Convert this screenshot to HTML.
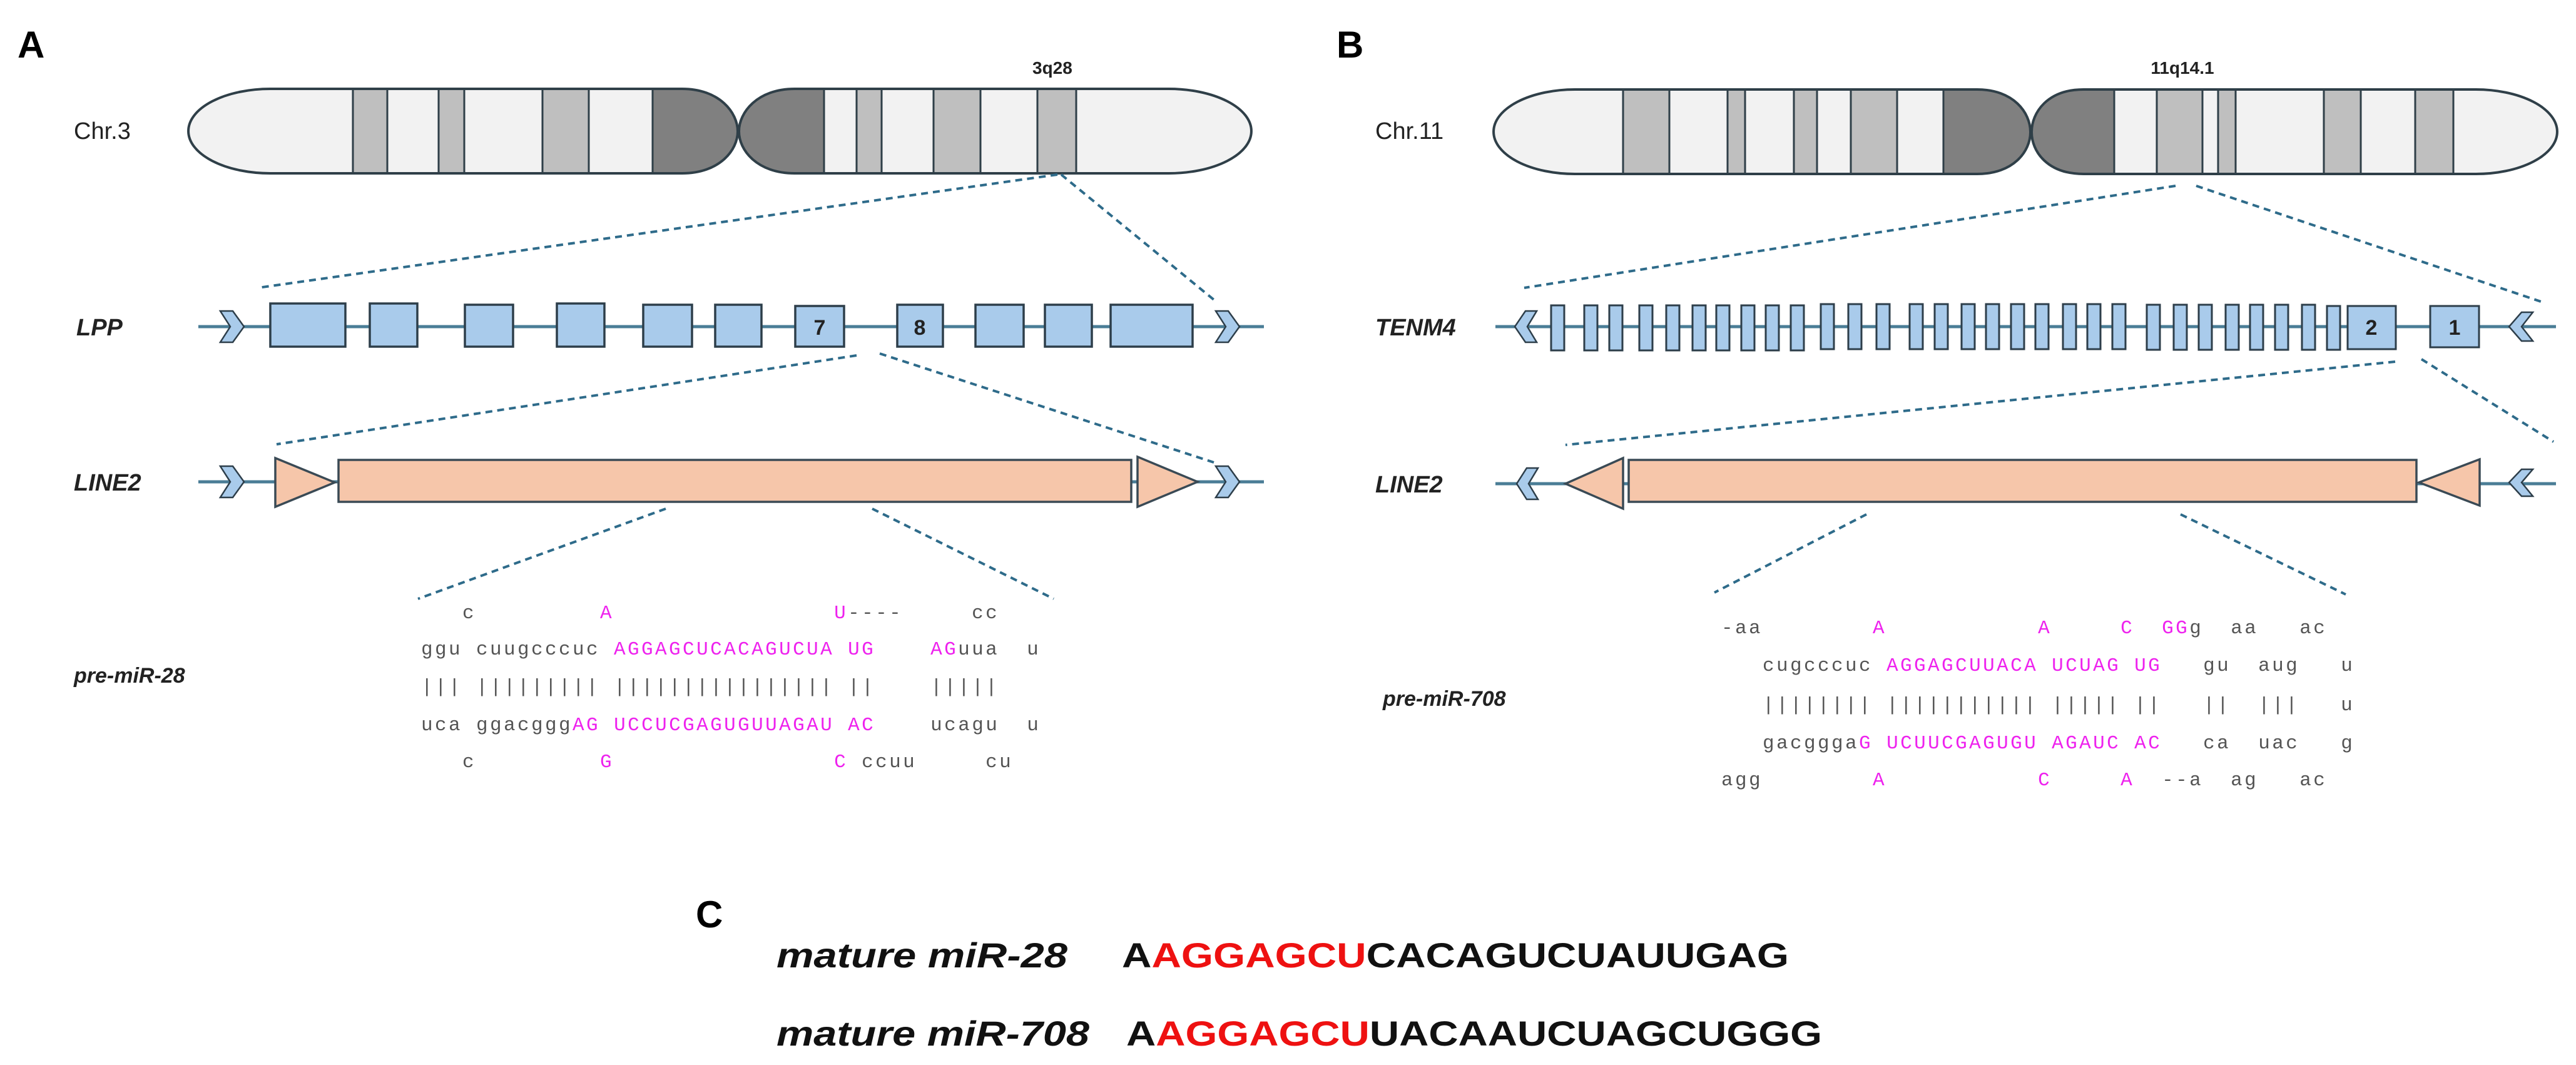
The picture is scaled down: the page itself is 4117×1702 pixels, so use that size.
<!DOCTYPE html>
<html><head><meta charset="utf-8"><style>
html,body{margin:0;padding:0;background:#fff;}
svg{display:block;}
.lab{font-family:"Liberation Sans",sans-serif;}
.seq{font-family:"Liberation Mono",monospace;font-size:31px;letter-spacing:3.4px;fill:#555;white-space:pre;}
.m{fill:#ee22ee;}
</style></head><body>
<svg width="4117" height="1702" viewBox="0 0 4117 1702" xmlns="http://www.w3.org/2000/svg">
<defs>
<clipPath id="la"><path d="M432,142 H1090 C1150,142 1179,180 1179,210 C1179,240 1150,277 1090,277 H432 A131,67.5 0 0 1 432,142 Z"/></clipPath>
<clipPath id="ra"><path d="M1270,142 H1868 A132,67.5 0 0 1 1868,277 H1270 C1210,277 1181,240 1181,210 C1181,180 1210,142 1270,142 Z"/></clipPath>
<clipPath id="lb"><path d="M2517,143 H3160 C3218,143 3245,180 3245,211 C3245,242 3218,278 3160,278 H2517 A130,67.5 0 0 1 2517,143 Z"/></clipPath>
<clipPath id="rb"><path d="M3330,143 H3957 A130,67.5 0 0 1 3957,278 H3330 C3272,278 3247,242 3247,211 C3247,180 3272,143 3330,143 Z"/></clipPath>
</defs>

<text x="28" y="92" class="lab" font-size="60" font-weight="bold">A</text>
<text x="2136" y="92" class="lab" font-size="60" font-weight="bold">B</text>
<text x="1112" y="1482" class="lab" font-size="60" font-weight="bold">C</text>

<!-- Panel A chromosome -->
<text x="118" y="222" class="lab" font-size="38" fill="#222">Chr.3</text>
<text x="1650" y="118" class="lab" font-size="28" font-weight="bold" fill="#222">3q28</text>
<g clip-path="url(#la)">
<rect x="290" y="130" width="900" height="160" fill="#f2f2f2"/>
<rect x="564" y="130" width="55" height="160" fill="#bfbfbf" stroke="#2f3f48" stroke-width="3"/>
<rect x="701" y="130" width="41" height="160" fill="#bfbfbf" stroke="#2f3f48" stroke-width="3"/>
<rect x="867" y="130" width="74" height="160" fill="#bfbfbf" stroke="#2f3f48" stroke-width="3"/>
<rect x="1043" y="130" width="150" height="160" fill="#808080" stroke="#2f3f48" stroke-width="3"/>
</g>
<path d="M432,142 H1090 C1150,142 1179,180 1179,210 C1179,240 1150,277 1090,277 H432 A131,67.5 0 0 1 432,142 Z" fill="none" stroke="#2f3f48" stroke-width="4"/>
<g clip-path="url(#ra)">
<rect x="1170" y="130" width="850" height="160" fill="#f2f2f2"/>
<rect x="1170" y="130" width="147" height="160" fill="#808080" stroke="#2f3f48" stroke-width="3"/>
<rect x="1369" y="130" width="40" height="160" fill="#bfbfbf" stroke="#2f3f48" stroke-width="3"/>
<rect x="1492" y="130" width="75" height="160" fill="#bfbfbf" stroke="#2f3f48" stroke-width="3"/>
<rect x="1658" y="130" width="62" height="160" fill="#bfbfbf" stroke="#2f3f48" stroke-width="3"/>
</g>
<path d="M1270,142 H1868 A132,67.5 0 0 1 1868,277 H1270 C1210,277 1181,240 1181,210 C1181,180 1210,142 1270,142 Z" fill="none" stroke="#2f3f48" stroke-width="4"/>

<g stroke="#2e6b8a" stroke-width="4" stroke-dasharray="11,8" fill="none">
<line x1="1690" y1="279" x2="412" y2="460"/>
<line x1="1696" y1="279" x2="1940" y2="479"/>
<line x1="1369" y1="568" x2="442" y2="710"/>
<line x1="1406" y1="565" x2="1940" y2="739"/>
<line x1="1064" y1="813" x2="668" y2="957"/>
<line x1="1394" y1="813" x2="1684" y2="957"/>
</g>

<text x="122" y="536" class="lab" font-size="38" font-weight="bold" font-style="italic" fill="#222">LPP</text>
<line x1="317" y1="522" x2="2020" y2="522" stroke="#4a7d96" stroke-width="5"/>
<g fill="#a9cbeb" stroke="#2d3e4a" stroke-width="3.5">
<rect x="432" y="485" width="120" height="69"/>
<rect x="591" y="485" width="76" height="69"/>
<rect x="743" y="487" width="77" height="67"/>
<rect x="890" y="485" width="76" height="69"/>
<rect x="1028" y="487" width="78" height="67"/>
<rect x="1143" y="487" width="74" height="67"/>
<rect x="1271" y="489" width="78" height="65"/>
<rect x="1434" y="487" width="73" height="67"/>
<rect x="1559" y="487" width="77" height="67"/>
<rect x="1670" y="487" width="75" height="67"/>
<rect x="1775" y="487" width="131" height="67"/>
</g>
<text x="1310" y="535" class="lab" font-size="34" font-weight="bold" text-anchor="middle" fill="#222">7</text>
<text x="1470" y="535" class="lab" font-size="34" font-weight="bold" text-anchor="middle" fill="#222">8</text>
<g fill="#a9cbeb" stroke="#2d3e4a" stroke-width="2.5">
<polygon points="352,497 372,497 390,522 372,547 352,547 368,522"/>
<polygon points="1943,497 1963,497 1981,522 1963,547 1943,547 1959,522"/>
</g>

<text x="118" y="784" class="lab" font-size="38" font-weight="bold" font-style="italic" fill="#222">LINE2</text>
<line x1="317" y1="770" x2="2020" y2="770" stroke="#4a7d96" stroke-width="5"/>
<g fill="#f6c6aa" stroke="#3a4a55" stroke-width="3.5">
<polygon points="440,732 535,771 440,810"/>
<rect x="541" y="735" width="1267" height="67"/>
<polygon points="1818,730 1914,770 1818,810"/>
</g>
<g fill="#a9cbeb" stroke="#2d3e4a" stroke-width="2.5">
<polygon points="352,745 372,745 390,770 372,795 352,795 368,770"/>
<polygon points="1943,745 1963,745 1981,770 1963,795 1943,795 1959,770"/>
</g>

<text x="118" y="1091" class="lab" font-size="34" font-weight="bold" font-style="italic" fill="#222">pre-miR-28</text>
<text x="673" y="988" class="seq">   c         <tspan class="m">A</tspan>                <tspan class="m">U</tspan>----     cc</text>
<text x="673" y="1046" class="seq">ggu cuugcccuc <tspan class="m">AGGAGCUCACAGUCUA</tspan> <tspan class="m">UG</tspan>    <tspan class="m">AG</tspan>uua  u</text>
<text x="673" y="1106" class="seq">||| ||||||||| |||||||||||||||| ||    |||||</text>
<text x="673" y="1167" class="seq">uca ggacggg<tspan class="m">AG</tspan> <tspan class="m">UCCUCGAGUGUUAGAU</tspan> <tspan class="m">AC</tspan>    ucagu  u</text>
<text x="673" y="1226" class="seq">   c         <tspan class="m">G</tspan>                <tspan class="m">C</tspan> ccuu     cu</text>

<!-- Panel B chromosome -->
<text x="2198" y="222" class="lab" font-size="38" fill="#222">Chr.11</text>
<text x="3488" y="118" class="lab" font-size="28" font-weight="bold" text-anchor="middle" fill="#222">11q14.1</text>
<g clip-path="url(#lb)">
<rect x="2380" y="130" width="880" height="160" fill="#f2f2f2"/>
<rect x="2594" y="130" width="74" height="160" fill="#bfbfbf" stroke="#2f3f48" stroke-width="3"/>
<rect x="2761" y="130" width="28" height="160" fill="#bfbfbf" stroke="#2f3f48" stroke-width="3"/>
<rect x="2867" y="130" width="37" height="160" fill="#bfbfbf" stroke="#2f3f48" stroke-width="3"/>
<rect x="2958" y="130" width="74" height="160" fill="#bfbfbf" stroke="#2f3f48" stroke-width="3"/>
<rect x="3106" y="130" width="150" height="160" fill="#808080" stroke="#2f3f48" stroke-width="3"/>
</g>
<path d="M2517,143 H3160 C3218,143 3245,180 3245,211 C3245,242 3218,278 3160,278 H2517 A130,67.5 0 0 1 2517,143 Z" fill="none" stroke="#2f3f48" stroke-width="4"/>
<g clip-path="url(#rb)">
<rect x="3240" y="130" width="860" height="160" fill="#f2f2f2"/>
<rect x="3230" y="130" width="149" height="160" fill="#808080" stroke="#2f3f48" stroke-width="3"/>
<rect x="3447" y="130" width="73" height="160" fill="#bfbfbf" stroke="#2f3f48" stroke-width="3"/>
<rect x="3545" y="130" width="28" height="160" fill="#bfbfbf" stroke="#2f3f48" stroke-width="3"/>
<rect x="3714" y="130" width="59" height="160" fill="#bfbfbf" stroke="#2f3f48" stroke-width="3"/>
<rect x="3860" y="130" width="61" height="160" fill="#bfbfbf" stroke="#2f3f48" stroke-width="3"/>
</g>
<path d="M3330,143 H3957 A130,67.5 0 0 1 3957,278 H3330 C3272,278 3247,242 3247,211 C3247,180 3272,143 3330,143 Z" fill="none" stroke="#2f3f48" stroke-width="4"/>

<g stroke="#2e6b8a" stroke-width="4" stroke-dasharray="11,8" fill="none">
<line x1="3477" y1="297" x2="2436" y2="460"/>
<line x1="3510" y1="297" x2="4064" y2="483"/>
<line x1="3828" y1="578" x2="2502" y2="711"/>
<line x1="3870" y1="574" x2="4081" y2="706"/>
<line x1="2983" y1="822" x2="2740" y2="947"/>
<line x1="3485" y1="822" x2="3749" y2="950"/>
</g>

<text x="2198" y="536" class="lab" font-size="38" font-weight="bold" font-style="italic" fill="#222">TENM4</text>
<line x1="2390" y1="522" x2="4085" y2="522" stroke="#4a7d96" stroke-width="5"/>
<g fill="#a9cbeb" stroke="#2d3e4a" stroke-width="3">
<rect x="2479" y="488" width="21" height="72"/><rect x="2532" y="488" width="21" height="72"/>
<rect x="2572" y="488" width="21" height="72"/><rect x="2620" y="488" width="21" height="72"/>
<rect x="2663" y="488" width="21" height="72"/><rect x="2705" y="488" width="21" height="72"/>
<rect x="2743" y="488" width="21" height="72"/><rect x="2783" y="488" width="21" height="72"/>
<rect x="2822" y="488" width="21" height="72"/><rect x="2862" y="488" width="21" height="72"/>
<rect x="2910" y="486" width="21" height="72"/><rect x="2954" y="486" width="21" height="72"/>
<rect x="2999" y="486" width="21" height="72"/><rect x="3052" y="486" width="21" height="72"/>
<rect x="3092" y="486" width="21" height="72"/><rect x="3135" y="486" width="21" height="72"/>
<rect x="3174" y="486" width="21" height="72"/><rect x="3214" y="486" width="21" height="72"/>
<rect x="3253" y="486" width="21" height="72"/><rect x="3297" y="486" width="21" height="72"/>
<rect x="3336" y="486" width="21" height="72"/><rect x="3376" y="486" width="21" height="72"/>
<rect x="3431" y="487" width="21" height="72"/><rect x="3474" y="487" width="21" height="72"/>
<rect x="3514" y="487" width="21" height="72"/><rect x="3557" y="487" width="21" height="72"/>
<rect x="3596" y="487" width="21" height="72"/><rect x="3636" y="487" width="21" height="72"/>
<rect x="3679" y="487" width="21" height="72"/><rect x="3719" y="489" width="21" height="70"/>
<rect x="3752" y="489" width="77" height="69"/>
<rect x="3884" y="489" width="78" height="66"/>
</g>
<text x="3790" y="535" class="lab" font-size="34" font-weight="bold" text-anchor="middle" fill="#222">2</text>
<text x="3923" y="535" class="lab" font-size="34" font-weight="bold" text-anchor="middle" fill="#222">1</text>
<g fill="#a9cbeb" stroke="#2d3e4a" stroke-width="2.5">
<polygon points="2456,497 2438,497 2421,522 2438,547 2456,547 2441,522"/>
<polygon points="4048,499 4030,499 4010,522 4030,545 4048,545 4030,522"/>
</g>

<text x="2198" y="787" class="lab" font-size="38" font-weight="bold" font-style="italic" fill="#222">LINE2</text>
<line x1="2390" y1="773" x2="4085" y2="773" stroke="#4a7d96" stroke-width="5"/>
<g fill="#f6c6aa" stroke="#3a4a55" stroke-width="3.5">
<polygon points="2594,732 2502,773 2594,813"/>
<rect x="2603" y="735" width="1259" height="67"/>
<polygon points="3963,734 3866,771 3963,808"/>
</g>
<g fill="#a9cbeb" stroke="#2d3e4a" stroke-width="2.5">
<polygon points="2458,748 2440,748 2424,773 2440,798 2458,798 2443,773"/>
<polygon points="4048,750 4030,750 4010,771 4030,793 4048,793 4030,771"/>
</g>

<text x="2210" y="1128" class="lab" font-size="34" font-weight="bold" font-style="italic" fill="#222">pre-miR-708</text>
<text x="2751" y="1012" class="seq">-aa        <tspan class="m">A</tspan>           <tspan class="m">A</tspan>     <tspan class="m">C</tspan>  <tspan class="m">GG</tspan>g  aa   ac</text>
<text x="2751" y="1072" class="seq">   cugcccuc <tspan class="m">AGGAGCUUACA</tspan> <tspan class="m">UCUAG</tspan> <tspan class="m">UG</tspan>   gu  aug   u</text>
<text x="2751" y="1135" class="seq">   |||||||| ||||||||||| ||||| ||   ||  |||   u</text>
<text x="2751" y="1196" class="seq">   gacggga<tspan class="m">G</tspan> <tspan class="m">UCUUCGAGUGU</tspan> <tspan class="m">AGAUC</tspan> <tspan class="m">AC</tspan>   ca  uac   g</text>
<text x="2751" y="1255" class="seq">agg        <tspan class="m">A</tspan>           <tspan class="m">C</tspan>     <tspan class="m">A</tspan>  --a  ag   ac</text>

<!-- Panel C -->
<text x="1241" y="1546" class="lab" font-size="56" font-weight="bold" font-style="italic" fill="#111" textLength="465" lengthAdjust="spacingAndGlyphs">mature miR-28</text>
<text x="1793" y="1546" class="lab" font-size="56" font-weight="bold" fill="#111" textLength="1066" lengthAdjust="spacingAndGlyphs">A<tspan fill="#ee1111">AGGAGCU</tspan>CACAGUCUAUUGAG</text>
<text x="1241" y="1671" class="lab" font-size="56" font-weight="bold" font-style="italic" fill="#111" textLength="500" lengthAdjust="spacingAndGlyphs">mature miR-708</text>
<text x="1800" y="1671" class="lab" font-size="56" font-weight="bold" fill="#111" textLength="1112" lengthAdjust="spacingAndGlyphs">A<tspan fill="#ee1111">AGGAGCU</tspan>UACAAUCUAGCUGGG</text>
</svg>
</body></html>
